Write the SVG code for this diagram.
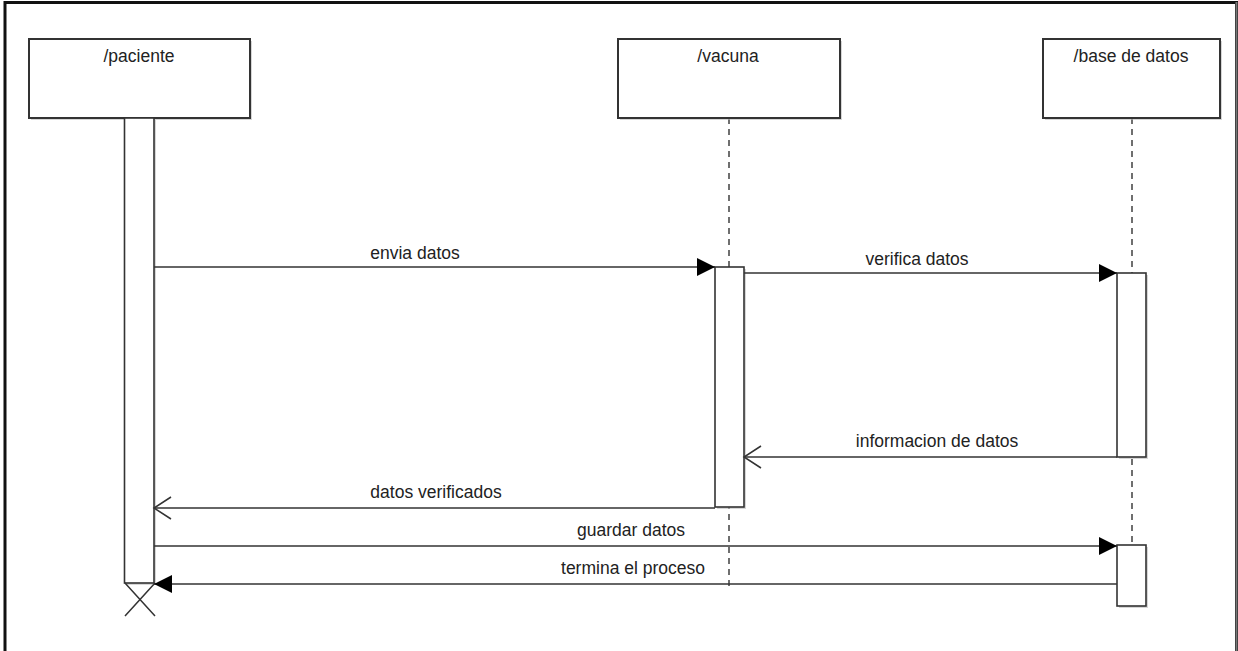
<svg xmlns="http://www.w3.org/2000/svg" width="1238" height="651" viewBox="0 0 1238 651">
<defs>
<style>
.box{fill:#fff;stroke:#333;stroke-width:2}
.shadow{fill:#bbb;opacity:0.6}
.act{fill:#fff;stroke:#333;stroke-width:1.6}
.life{stroke:#333;stroke-width:1.4;stroke-dasharray:6 5;fill:none}
.msg{stroke:#333;stroke-width:1.6;fill:none}
.lbl{font-family:"Liberation Sans",Arial,sans-serif;font-size:17.5px;fill:#222;text-anchor:middle}
</style>
<marker id="filled" markerWidth="20" markerHeight="20" viewBox="0 0 20 20" refX="18" refY="10" orient="auto" markerUnits="userSpaceOnUse">
<path d="M0,1 L18,10 L0,19 Z" fill="#000"/>
</marker>
<marker id="open" markerWidth="20" markerHeight="24" viewBox="0 0 20 24" refX="18" refY="12" orient="auto" markerUnits="userSpaceOnUse">
<path d="M1,1 L18,12 L1,23" fill="none" stroke="#333" stroke-width="1.5"/>
</marker>
</defs>
<rect width="1238" height="651" fill="#fff"/>
<path d="M5,651 V2.5 H1236.5 V651" fill="none" stroke="#111" stroke-width="3"/>
<line x1="1236.5" y1="2" x2="1236.5" y2="651" stroke="#777" stroke-width="2"/>

<g id="paciente">
<rect class="shadow" x="31" y="41" width="221" height="79"/>
<rect class="box" x="29" y="39" width="221" height="79"/>
<text class="lbl" x="139" y="62">/paciente</text>
<rect class="shadow" x="126" y="120" width="30" height="465"/>
<rect class="act" x="124.5" y="118" width="29.5" height="465"/>
<path d="M125,583 L155,616 M125,616 L155,583" stroke="#333" stroke-width="1.5" fill="none"/>
</g>

<g id="vacuna">
<line class="life" x1="729" y1="118" x2="729" y2="586"/>
<rect class="shadow" x="620" y="41" width="222" height="79"/>
<rect class="box" x="618" y="39" width="222" height="79"/>
<text class="lbl" x="728" y="62">/vacuna</text>
<rect class="shadow" x="717" y="269" width="29" height="240"/>
<rect class="act" x="715" y="267" width="29" height="240"/>
</g>

<g id="base_de_datos">
<line class="life" x1="1132" y1="118" x2="1132" y2="545"/>
<rect class="shadow" x="1045" y="41" width="177" height="79"/>
<rect class="box" x="1043" y="39" width="177" height="79"/>
<text class="lbl" x="1131" y="62">/base de datos</text>
<rect class="shadow" x="1119" y="275" width="29" height="184"/>
<rect class="act" x="1117" y="273" width="29" height="184"/>
<rect class="shadow" x="1119" y="547" width="29" height="61"/>
<rect class="act" x="1117" y="545" width="29" height="61"/>
</g>

<g id="connectors">
<line class="msg" x1="154" y1="267" x2="715" y2="267" marker-end="url(#filled)"/>
<text class="lbl" x="415" y="259">envia datos</text>
<line class="msg" x1="744" y1="273" x2="1117" y2="273" marker-end="url(#filled)"/>
<text class="lbl" x="917" y="265">verifica datos</text>
<line class="msg" x1="1117" y1="457" x2="744" y2="457" marker-end="url(#open)"/>
<text class="lbl" x="937" y="447">informacion de datos</text>
<line class="msg" x1="715" y1="508" x2="154" y2="508" marker-end="url(#open)"/>
<text class="lbl" x="436" y="498">datos verificados</text>
<line class="msg" x1="154" y1="546" x2="1117" y2="546" marker-end="url(#filled)"/>
<text class="lbl" x="631" y="536">guardar datos</text>
<line class="msg" x1="1117" y1="584" x2="154" y2="584" marker-end="url(#filled)"/>
<text class="lbl" x="633" y="574">termina el proceso</text>
</g>
</svg>
